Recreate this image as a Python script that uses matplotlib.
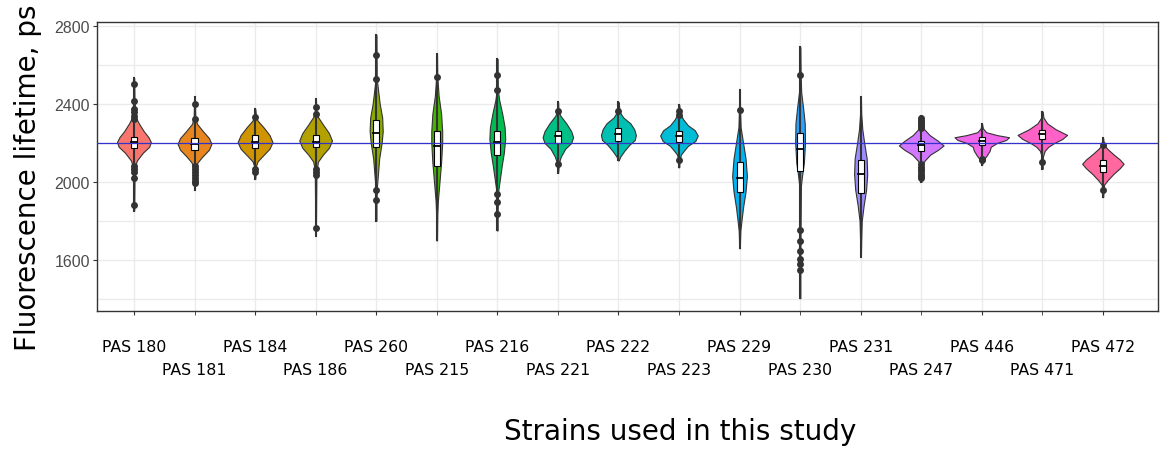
import numpy as np
import matplotlib
matplotlib.use("Agg")
import matplotlib.pyplot as plt

# strains on the x axis
strains = ["PAS 180", "PAS 181", "PAS 184", "PAS 186", "PAS 260", "PAS 215",
           "PAS 216", "PAS 221", "PAS 222", "PAS 223", "PAS 229", "PAS 230",
           "PAS 231", "PAS 247", "PAS 446", "PAS 471", "PAS 472"]

# boxplot stats (ps)
q1 = [2173, 2166, 2175, 2178, 2178, 2084, 2139, 2200, 2212, 2204, 1947, 2058, 1944, 2161, 2187, 2221, 2053]
med = [2204, 2195, 2204, 2207, 2251, 2182, 2204, 2234, 2246, 2234, 2021, 2169, 2038, 2187, 2209, 2245, 2084]
q3 = [2232, 2224, 2238, 2241, 2315, 2260, 2263, 2263, 2275, 2263, 2101, 2251, 2113, 2212, 2229, 2267, 2110]

# outlier points
outliers = [
    [2503, 2417, 2375, 2358, 2340, 2323, 2084, 2067, 2050, 2019, 1884],
    [2400, 2323, 2080, 2065, 2050, 2035, 2020, 2005, 1995],
    [2335, 2067, 2050],
    [2383, 2349, 2067, 2050, 2033, 1763],
    [2651, 2528, 1959, 1905],
    [2537],
    [2550, 2472, 1939, 1896, 1833],
    [2366, 2093],
    [2366],
    [2366, 2344, 2110],
    [2369],
    [2549, 1751, 1696, 1648, 1605, 1580, 1549],
    [],
    [2330, 2318, 2306, 2295, 2285, 2275, 2090, 2078, 2066, 2055, 2043, 2030, 2018],
    [2118, 2110],
    [2101],
    [2190, 1959],
]

# violin outlines: lifetime levels (top to bottom) and relative density there
vy = [
    [2532, 2420, 2330, 2300, 2260, 2230, 2205, 2180, 2150, 2110, 2080, 2000, 1853],
    [2434, 2330, 2298, 2260, 2225, 2195, 2165, 2130, 2100, 2084, 2000, 1959],
    [2374, 2340, 2315, 2280, 2240, 2204, 2170, 2135, 2105, 2080, 2016],
    [2423, 2360, 2332, 2290, 2250, 2212, 2175, 2140, 2105, 2060, 1900, 1725],
    [2754, 2530, 2470, 2400, 2330, 2260, 2200, 2120, 2050, 1980, 1900, 1802],
    [2657, 2540, 2440, 2350, 2260, 2200, 2100, 2000, 1900, 1830, 1700],
    [2631, 2470, 2420, 2350, 2280, 2220, 2150, 2080, 2000, 1950, 1840, 1751],
    [2409, 2366, 2340, 2300, 2260, 2229, 2200, 2170, 2130, 2100, 2046],
    [2409, 2360, 2330, 2300, 2270, 2240, 2215, 2190, 2160, 2130, 2110],
    [2395, 2350, 2320, 2290, 2265, 2238, 2210, 2185, 2160, 2140, 2110, 2075],
    [2472, 2370, 2280, 2200, 2120, 2030, 1950, 1870, 1800, 1750, 1660],
    [2691, 2550, 2460, 2380, 2300, 2200, 2100, 2030, 1980, 1800, 1600, 1404],
    [2434, 2350, 2270, 2200, 2120, 2040, 1960, 1880, 1800, 1700, 1617],
    [2340, 2290, 2270, 2240, 2210, 2187, 2165, 2140, 2110, 2090, 2000],
    [2298, 2275, 2255, 2240, 2229, 2215, 2200, 2180, 2160, 2135, 2115, 2087],
    [2361, 2330, 2300, 2270, 2241, 2220, 2200, 2180, 2160, 2130, 2067],
    [2224, 2190, 2170, 2140, 2115, 2093, 2070, 2040, 2010, 1985, 1922],
]
vd = [
    [.01, .02, .07, .18, .36, .53, .62, .56, .33, .11, .04, .02, .01],
    [.01, .03, .09, .31, .53, .62, .53, .29, .11, .07, .02, .01],
    [.01, .03, .09, .31, .53, .64, .53, .29, .09, .03, .01],
    [.01, .03, .09, .29, .49, .60, .49, .27, .09, .03, .02, .01],
    [.01, .02, .07, .13, .22, .24, .20, .11, .07, .03, .01, .01],
    [.01, .02, .07, .16, .20, .20, .16, .10, .04, .02, .01],
    [.01, .02, .07, .18, .27, .29, .24, .16, .08, .03, .01, .01],
    [.01, .02, .09, .31, .49, .56, .49, .27, .11, .04, .01],
    [.01, .04, .18, .44, .58, .64, .60, .40, .22, .07, .01],
    [.01, .04, .16, .33, .58, .69, .60, .33, .18, .07, .02, .01],
    [.01, .02, .04, .13, .22, .27, .22, .13, .07, .03, .01],
    [.01, .02, .04, .11, .17, .18, .14, .07, .03, .02, .01, .01],
    [.01, .02, .06, .13, .22, .24, .20, .11, .04, .02, .01],
    [.02, .04, .11, .31, .62, .82, .62, .33, .13, .04, .01],
    [.01, .04, .16, .56, 1.0, .89, .56, .33, .29, .18, .07, .01],
    [.01, .04, .18, .49, .91, .73, .44, .22, .09, .02, .01],
    [.01, .04, .16, .40, .62, .76, .62, .38, .18, .04, .01],
]

ref_line = 2200


def hcl_hex(h, c=100, l=65):
    # polar Luv -> sRGB, like ggplot's hue_pal
    hr = np.radians(h)
    u, v = c * np.cos(hr), c * np.sin(hr)
    Xn, Yn, Zn = 95.047, 100.0, 108.883
    Y = Yn * ((l + 16) / 116) ** 3
    d = Xn + 15 * Yn + 3 * Zn
    un, vn = 4 * Xn / d, 9 * Yn / d
    up = u / (13 * l) + un
    vp = v / (13 * l) + vn
    X = Y * 9 * up / (4 * vp)
    Z = Y * (12 - 3 * up - 20 * vp) / (4 * vp)
    M = np.array([[3.2406, -1.5372, -0.4986],
                  [-0.9689, 1.8758, 0.0415],
                  [0.0557, -0.2040, 1.0570]])
    rgb = M @ (np.array([X, Y, Z]) / 100)
    rgb = np.where(rgb <= 0.0031308, 12.92 * rgb, 1.055 * np.abs(rgb) ** (1 / 2.4) - 0.055)
    return tuple(np.clip(rgb, 0, 1))


n = len(strains)
colors = [hcl_hex(15 + i * 360 / n) for i in range(n)]

fig = plt.figure(figsize=(11.6, 4.52), dpi=100)
ax = fig.add_axes([97 / 1160, 1 - 312 / 452, (1158 - 97) / 1160, (312 - 23) / 452])

edge = "#333333"
for i in range(n):
    y = np.array(vy[i])
    hw = np.array(vd[i]) * 0.45
    ax.fill_betweenx(y, i - hw, i + hw, facecolor=colors[i], edgecolor=edge, lw=0.8, zorder=2)
    ax.plot([i, i], [y.min(), y.max()], color=edge, lw=1.5, zorder=3)
    bw = 0.05
    ax.add_patch(plt.Rectangle((i - bw, q1[i]), 2 * bw, q3[i] - q1[i],
                               facecolor="white", edgecolor="black", lw=0.8, zorder=4))
    ax.plot([i - bw, i + bw], [med[i], med[i]], color="black", lw=1.3, zorder=5)
    if outliers[i]:
        ax.plot([i] * len(outliers[i]), outliers[i], "o", color=edge, ms=5, mec="none", zorder=5)

ax.axhline(ref_line, color="#3333CC", lw=0.9, zorder=6)

ax.set_xlim(-0.61, n - 1 + 0.91)
ax.set_ylim(1338, 2820)

ax.set_yticks([1600, 2000, 2400, 2800])
ax.set_yticks([1400, 1800, 2200, 2600], minor=True)
ax.tick_params(axis="y", which="major", labelsize=11.5, labelcolor="#4D4D4D", color=edge, length=3, pad=2)
ax.tick_params(axis="y", which="minor", length=0)
for t in ax.get_yticklabels():
    t.set_fontfamily("Liberation Sans")

ax.set_xticks(range(0, n, 2))
ax.set_xticklabels(strains[0::2])
ax.set_xticks(range(1, n, 2), minor=True)
ax.set_xticklabels(strains[1::2], minor=True)
ax.tick_params(axis="x", which="major", labelsize=11.3, color=edge, length=3, pad=17)
ax.tick_params(axis="x", which="minor", labelsize=11.3, color=edge, length=3, pad=33.5)

ax.grid(True, which="both", color="#EBEBEB", lw=1.0, zorder=0)
ax.set_axisbelow(True)
for s in ax.spines.values():
    s.set_color(edge)
    s.set_linewidth(1.0)

fig.text(28 / 1160, 1 - 178 / 452, "Fluorescence lifetime, ps", rotation=90,
         ha="center", va="center", fontsize=20)
fig.text(680 / 1160, 1 - 432 / 452, "Strains used in this study",
         ha="center", va="center", fontsize=20)

fig.savefig("out.png", dpi=100)
